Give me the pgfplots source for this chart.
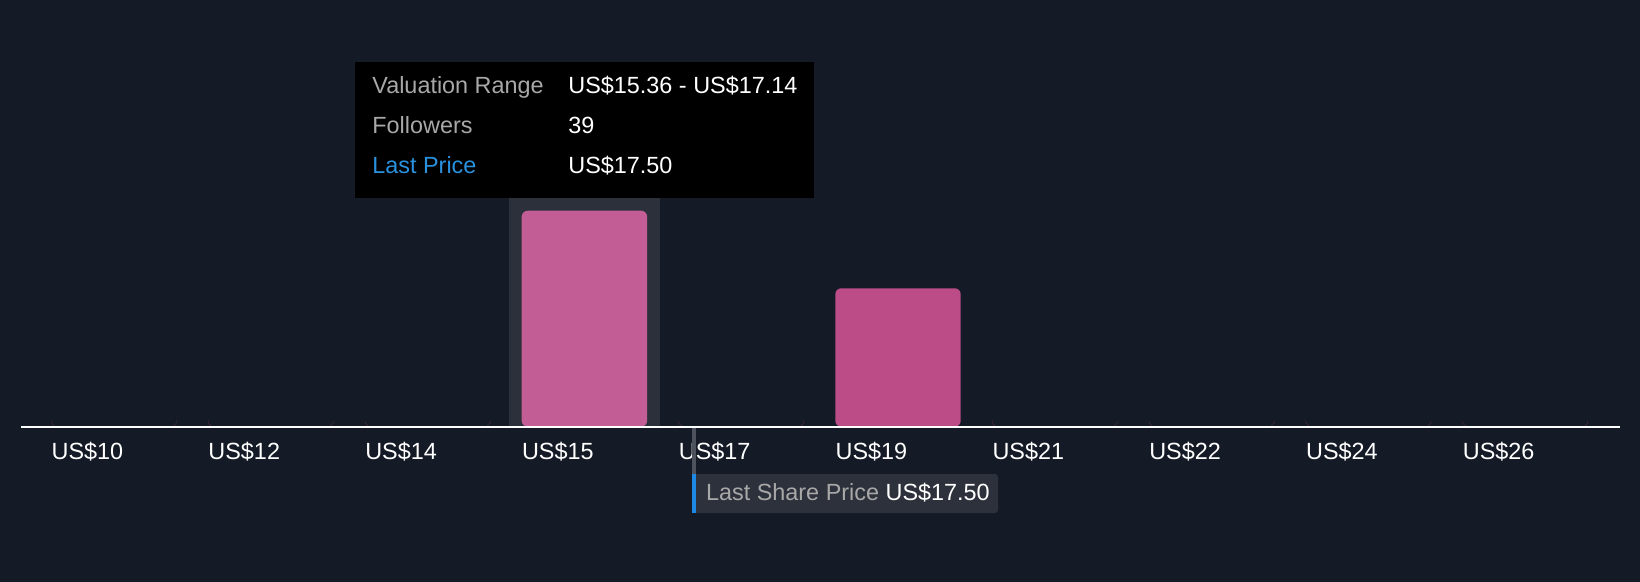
\documentclass[border=0pt]{standalone}
\usepackage{fontspec}
\setmainfont{Liberation Sans}
\usepackage{pgfplots}
\pgfplotsset{compat=1.18}

\definecolor{bg}{RGB}{21,27,38}
\definecolor{band}{RGB}{44,48,58}
\definecolor{barhi}{RGB}{194,94,149}
\definecolor{barlo}{RGB}{187,76,135}
\definecolor{tipgray}{RGB}{168,168,168}
\definecolor{tipblue}{RGB}{42,145,222}
\definecolor{boxfill}{RGB}{45,49,59}
\definecolor{linegray}{RGB}{78,82,92}
\definecolor{priceblue}{RGB}{30,136,229}

\begin{document}
\begin{tikzpicture}
\begin{axis}[
    name=ax,
    scale only axis,
    width=820pt, height=291pt,
    xmin=-0.727, xmax=9.732,
    ymin=-28.04, ymax=77.05,
    axis background/.style={fill=bg},
    axis x line*=middle,
    axis y line=none,
    axis line style={draw=none},
    major tick length=0pt,
    xtick={-0.4,0.6,1.6,2.6,3.6,4.6,5.6,6.6,7.6,8.6},
    xticklabels={US\$10,US\$12,US\$14,US\$15,US\$17,US\$19,US\$21,US\$22,US\$24,US\$26},
    xticklabel style={anchor=base west, inner sep=0pt, yshift=-16.3pt,
        font=\fontsize{11.7}{14}\selectfont, text=white},
    ytick=\empty,
    clip=false,
]
    % hover band behind the selected bin
    \fill[band] (axis cs:2.519,0) rectangle (axis cs:3.482,55);

    % followers per valuation bin
    \addplot[ybar, bar width=0.8, bar shift=0pt, fill=barlo, draw=none, rounded corners=3pt]
        coordinates {(0,0) (1,0) (2,0) (4,0) (5,25) (6,0) (7,0) (8,0) (9,0)};
    \addplot[ybar, bar width=0.8, bar shift=0pt, fill=barhi, draw=none, rounded corners=3pt]
        coordinates {(3,39)};
\end{axis}

% overlay in pixel units (1 px = 0.5pt), origin top left
\begin{scope}[shift={(ax.north west)}, x=0.5pt, y=-0.5pt,
    every node/.style={inner sep=0pt, anchor=base west, font=\fontsize{11.7}{14}\selectfont}]
    \draw[white, line width=1pt] (21,427) -- (1620,427);

    % tooltip
    \fill[black] (355,62) rectangle (814,198);
    \node[text=tipgray] at (372,93.3) {Valuation Range};
    \node[text=white] at (568,93.3) {US\$15.36 - US\$17.14};
    \node[text=tipgray] at (372,133.3) {Followers};
    \node[text=white] at (568,133.3) {39};
    \node[text=tipblue] at (372,174) {Last Price};
    \node[text=white] at (568,174) {US\$17.50};

    % last share price marker
    \fill[linegray] (692.3,428) rectangle (696,474);
    \fill[boxfill, rounded corners=1.5pt] (692,474) rectangle (998,513);
    \fill[priceblue] (692,474) rectangle (696,513);
    \node[text=tipgray] at (705.7,500.7) {Last Share Price \textcolor{white}{US\$17.50}};
\end{scope}

\pgfresetboundingbox
\path[use as bounding box] (ax.south west) rectangle (ax.north east);
\end{tikzpicture}
\end{document}
